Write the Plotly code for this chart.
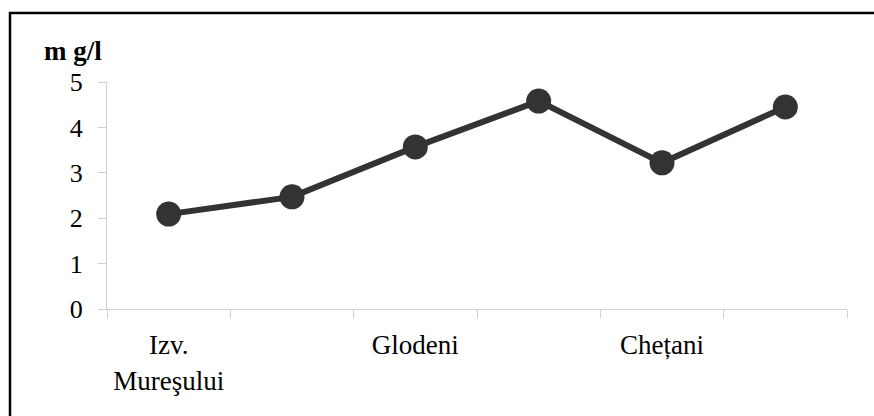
import plotly.graph_objects as go

categories = ["Izv.<br>Mureşului", " ", "Glodeni", "  ", "Chețani", "   "]
values = [2.09, 2.47, 3.57, 4.58, 3.22, 4.45]
y_ticks = [0, 1, 2, 3, 4, 5]
unit_label = "m g/l"

W, H = 874, 416
L, R, T, B = 107, 27, 82, 107
pw, ph = W - L - R, H - T - B

def px_x(x):
    return (x - L) / pw

def px_y(y):
    return (H - B - y) / ph

fig = go.Figure()
fig.add_trace(go.Scatter(
    x=categories, y=values, mode="lines+markers",
    line=dict(color="#333333", width=6),
    marker=dict(color="#333333", size=25),
    showlegend=False, cliponaxis=False,
))

font_family = "Liberation Serif, Times New Roman, serif"
fig.update_layout(
    width=W, height=H,
    margin=dict(l=L, r=R, t=T, b=B, pad=0),
    paper_bgcolor="white", plot_bgcolor="white",
    xaxis=dict(
        type="category", tickson="boundaries", ticks="outside", ticklen=8,
        tickcolor="#d0d0d0", tickwidth=1, showline=True, linecolor="#d0d0d0",
        linewidth=1, showgrid=False, zeroline=False, range=[-0.5, 5.5],
        tickfont=dict(family=font_family, size=27, color="black"),
        ticklabelstandoff=12,
    ),
    yaxis=dict(
        range=[0, 5], tickvals=y_ticks, ticks="outside", ticklen=8,
        tickcolor="#d0d0d0", tickwidth=1, showline=True, linecolor="#d0d0d0",
        linewidth=1, showgrid=False, zeroline=False,
        tickfont=dict(family=font_family, size=26, color="black"),
        ticklabelstandoff=10,
    ),
    annotations=[dict(
        text="<b>" + unit_label + "</b>", xref="paper", yref="paper",
        x=px_x(72.5), y=px_y(51), xanchor="center", yanchor="middle",
        showarrow=False, font=dict(family=font_family, size=27, color="black"),
    )],
    shapes=[dict(
        type="rect", xref="paper", yref="paper",
        x0=px_x(10), x1=px_x(885), y0=px_y(13), y1=px_y(440),
        line=dict(color="black", width=2.5), fillcolor="rgba(0,0,0,0)",
        layer="below",
    )],
)

fig.write_html("out.html")
